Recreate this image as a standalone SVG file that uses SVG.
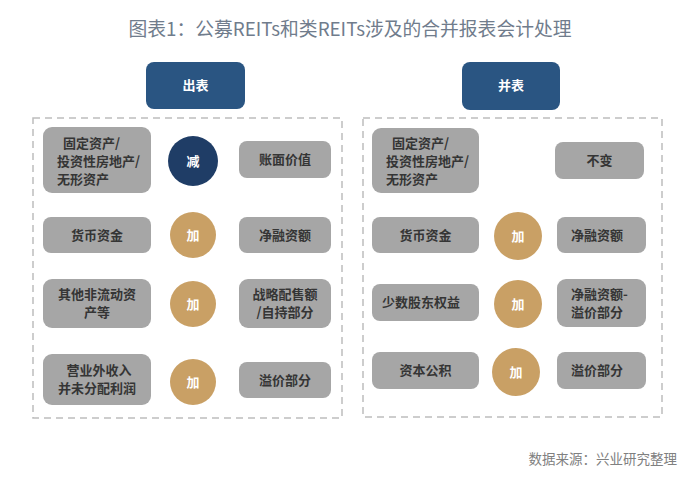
<svg xmlns="http://www.w3.org/2000/svg" width="700" height="477" viewBox="0 0 700 477">
<style>
.title{font-family:"Noto Sans CJK SC","Noto Sans",sans-serif;font-size:18.8px;fill:#707c8c;text-anchor:middle}
.hdr{fill:#2a5582}
.hdrt{font-family:"Noto Sans CJK SC",sans-serif;font-size:13px;font-weight:bold;fill:#fff;text-anchor:middle}
.frame{fill:none;stroke:#bdbdbd;stroke-width:1.5;stroke-dasharray:7 5}
.box{fill:#a6a6a6}
.bt{font-family:"Noto Sans CJK SC",sans-serif;font-size:13px;font-weight:bold;fill:#353535}
.c{text-anchor:middle}
.navy{fill:#1f3d66}
.gold{fill:#c9a065}
.ct{font-family:"Noto Sans CJK SC",sans-serif;font-size:13px;font-weight:bold;fill:#fff;text-anchor:middle}
.src{font-family:"Noto Sans CJK SC",sans-serif;font-size:13.5px;fill:#808080;text-anchor:end}
</style>
<rect width="700" height="477" fill="#fff"/>
<text class="title" x="350" y="36">图表1：公募REITs和类REITs涉及的合并报表会计处理</text>

<g id="left-panel">
<rect class="frame" x="33" y="118" width="309" height="300"/>
</g>
<g id="right-panel">
<rect class="frame" x="363" y="118" width="299" height="299"/>
</g>

<g id="hdr-left"><rect class="hdr" x="146" y="62" width="99" height="47" rx="8"/><text class="hdrt" x="195.5" y="90">出表</text></g>
<g id="hdr-right"><rect class="hdr" x="462" y="62" width="98" height="48" rx="8"/><text class="hdrt" x="511" y="90">并表</text></g>

<g id="L1a"><rect class="box" x="43" y="127" width="108" height="66" rx="9"/>
<text class="bt" x="63" y="148">固定资产/</text><text class="bt" x="57" y="166">投资性房地产/</text><text class="bt" x="57" y="184">无形资产</text></g>
<g id="L1op"><circle class="navy" cx="193" cy="161" r="25"/><text class="ct" x="193" y="166">减</text></g>
<g id="L1b"><rect class="box" x="239" y="141" width="92" height="37" rx="8"/><text class="bt c" x="285" y="164">账面价值</text></g>

<g id="L2a"><rect class="box" x="43" y="217" width="108" height="36" rx="8"/><text class="bt c" x="97" y="240">货币资金</text></g>
<g id="L2op"><circle class="gold" cx="193" cy="235" r="23"/><text class="ct" x="193" y="240">加</text></g>
<g id="L2b"><rect class="box" x="239" y="217" width="92" height="36" rx="8"/><text class="bt c" x="285" y="240">净融资额</text></g>

<g id="L3a"><rect class="box" x="43" y="279" width="108" height="49" rx="9"/><text class="bt c" x="97" y="299">其他非流动资</text><text class="bt c" x="97" y="317">产等</text></g>
<g id="L3op"><circle class="gold" cx="193" cy="304" r="23"/><text class="ct" x="193" y="309">加</text></g>
<g id="L3b"><rect class="box" x="239" y="279" width="92" height="49" rx="9"/><text class="bt c" x="285" y="299">战略配售额</text><text class="bt c" x="285" y="317">/自持部分</text></g>

<g id="L4a"><rect class="box" x="43" y="354" width="108" height="51" rx="9"/><text class="bt c" x="99" y="375">营业外收入</text><text class="bt c" x="97" y="393">并未分配利润</text></g>
<g id="L4op"><circle class="gold" cx="193" cy="382" r="23"/><text class="ct" x="193" y="387">加</text></g>
<g id="L4b"><rect class="box" x="239" y="362" width="92" height="36" rx="8"/><text class="bt c" x="285" y="385">溢价部分</text></g>

<g id="R1a"><rect class="box" x="372" y="128" width="107" height="65" rx="9"/>
<text class="bt" x="392" y="148">固定资产/</text><text class="bt" x="386" y="166">投资性房地产/</text><text class="bt" x="386" y="184">无形资产</text></g>
<g id="R1b"><rect class="box" x="555" y="142" width="89" height="37" rx="8"/><text class="bt c" x="599.5" y="165">不变</text></g>

<g id="R2a"><rect class="box" x="372" y="217" width="107" height="36" rx="8"/><text class="bt c" x="425.5" y="240">货币资金</text></g>
<g id="R2op"><circle class="gold" cx="518" cy="236" r="24"/><text class="ct" x="518" y="241">加</text></g>
<g id="R2b"><rect class="box" x="557" y="217" width="89" height="36" rx="8"/><text class="bt" x="571" y="240">净融资额</text></g>

<g id="R3a"><rect class="box" x="372" y="284" width="107" height="37" rx="8"/><text class="bt c" x="421" y="307">少数股东权益</text></g>
<g id="R3op"><circle class="gold" cx="518" cy="304" r="24"/><text class="ct" x="518" y="309">加</text></g>
<g id="R3b"><rect class="box" x="557" y="279" width="89" height="48" rx="9"/><text class="bt" x="571" y="299">净融资额-</text><text class="bt" x="571" y="317">溢价部分</text></g>

<g id="R4a"><rect class="box" x="372" y="352" width="107" height="37" rx="8"/><text class="bt c" x="425.5" y="375">资本公积</text></g>
<g id="R4op"><circle class="gold" cx="516" cy="372" r="24"/><text class="ct" x="516" y="377">加</text></g>
<g id="R4b"><rect class="box" x="557" y="352" width="89" height="37" rx="8"/><text class="bt" x="571" y="375">溢价部分</text></g>

<g id="connectors"></g>

<text class="src" x="677" y="464">数据来源：兴业研究整理</text>
</svg>
